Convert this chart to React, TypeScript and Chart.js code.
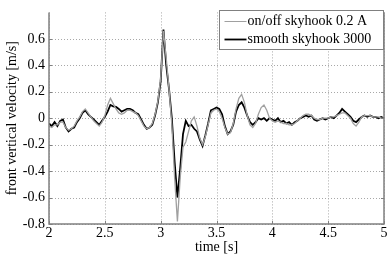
import React, { useEffect, useRef } from "react";
import { Chart, registerables } from "chart.js";

Chart.register(...registerables);

const times = [
  2.0, 2.025, 2.05, 2.075, 2.1, 2.125, 2.15, 2.175, 2.2, 2.225, 2.25, 2.275, 2.3, 2.325, 2.35, 2.375, 2.4, 2.425, 2.45, 2.475,
  2.5, 2.525, 2.55, 2.575, 2.6, 2.625, 2.65, 2.675, 2.7, 2.725, 2.75, 2.775, 2.8, 2.825, 2.85, 2.875, 2.9, 2.925, 2.95, 2.975,
  3.0, 3.025, 3.05, 3.075, 3.1, 3.125, 3.15, 3.175, 3.2, 3.225, 3.25, 3.275, 3.3, 3.325, 3.35, 3.375, 3.4, 3.425, 3.45, 3.475,
  3.5, 3.525, 3.55, 3.575, 3.6, 3.625, 3.65, 3.675, 3.7, 3.725, 3.75, 3.775, 3.8, 3.825, 3.85, 3.875, 3.9, 3.925, 3.95, 3.975,
  4.0, 4.025, 4.05, 4.075, 4.1, 4.125, 4.15, 4.175, 4.2, 4.225, 4.25, 4.275, 4.3, 4.325, 4.35, 4.375, 4.4, 4.425, 4.45, 4.475,
  4.5, 4.525, 4.55, 4.575, 4.6, 4.625, 4.65, 4.675, 4.7, 4.725, 4.75, 4.775, 4.8, 4.825, 4.85, 4.875, 4.9, 4.925, 4.95, 4.975,
  5.0,
];

const onOffSkyhook = [
  -0.06, -0.07, -0.05, -0.05, -0.03, -0.03, -0.07, -0.09, -0.08, -0.06, -0.02, 0.01, 0.05, 0.07, 0.04, 0.01, -0.02, -0.04, -0.06, -0.03,
  0.02, 0.1, 0.15, 0.11, 0.07, 0.04, 0.03, 0.04, 0.06, 0.06, 0.05, 0.04, 0.02, -0.02, -0.06, -0.08, -0.07, -0.04, 0.03, 0.13,
  0.3, 0.66, 0.45, 0.22, -0.05, -0.45, -0.78, -0.45, -0.22, -0.18, -0.1, -0.02, 0.01, -0.06, -0.15, -0.2, -0.14, -0.05, 0.04, 0.06,
  0.07, 0.05, 0.0, -0.07, -0.12, -0.11, -0.04, 0.07, 0.15, 0.18, 0.12, 0.02, -0.05, -0.07, -0.04, 0.03, 0.08, 0.1, 0.06, 0.0,
  -0.02, -0.03, -0.02, -0.03, -0.04, -0.04, -0.05, -0.05, -0.04, -0.02, 0.0, 0.02, 0.03, 0.03, 0.02, 0.0, -0.01, -0.01, 0.0, 0.0,
  0.0, 0.01, 0.01, 0.02, 0.03, 0.04, 0.04, 0.02, 0.0, -0.04, -0.06, -0.03, 0.01, 0.02, 0.02, 0.02, 0.01, 0.01, 0.01, 0.0,
  0.0,
];

const smoothSkyhook = [
  -0.04, -0.06, -0.03, -0.06, -0.02, -0.01, -0.07, -0.1, -0.08, -0.07, -0.03, 0.0, 0.04, 0.06, 0.03, 0.01, -0.01, -0.03, -0.05, -0.02,
  0.01, 0.05, 0.1, 0.09, 0.085, 0.07, 0.05, 0.06, 0.07, 0.07, 0.06, 0.04, 0.03, -0.01, -0.05, -0.08, -0.07, -0.05, 0.02, 0.12,
  0.28, 0.67, 0.4, 0.22, 0.0, -0.33, -0.6, -0.38, -0.12, -0.02, -0.06, -0.05, -0.08, -0.1, -0.16, -0.21, -0.13, -0.04, 0.06, 0.07,
  0.08, 0.07, 0.03, -0.06, -0.12, -0.1, -0.05, 0.05, 0.1, 0.12, 0.08, 0.02, -0.03, -0.05, -0.03, 0.0, -0.01, 0.0, -0.02, 0.0,
  -0.01, -0.02, 0.0, -0.03, -0.02, -0.04, -0.03, -0.05, -0.03, -0.02, 0.0, 0.01, 0.02, 0.01, 0.02, -0.01, -0.02, -0.01, 0.0, -0.01,
  0.0, 0.01, 0.0, 0.02, 0.04, 0.07, 0.05, 0.03, 0.01, -0.02, -0.03, -0.01, 0.01, 0.02, 0.01, 0.02, 0.01, 0.01, 0.0, 0.01,
  0.0,
];

const seriesLabels = ["on/off skyhook 0.2 A", "smooth skyhook 3000"];
const seriesColors = ["#a0a0a0", "#000000"];
const xTicks = [2, 2.5, 3, 3.5, 4, 4.5, 5];
const yTicks = [-0.8, -0.6, -0.4, -0.2, 0, 0.2, 0.4, 0.6];

const FONT = "Liberation Serif";

const gridPlugin = {
  id: "dotgrid",
  beforeDatasetsDraw(chart: any) {
    const { ctx, chartArea: a } = chart;
    const xs = chart.scales.x;
    const ys = chart.scales.y;
    ctx.save();
    ctx.strokeStyle = "#a8a8a8";
    ctx.lineWidth = 1;
    ctx.setLineDash([1, 2]);
    ctx.beginPath();
    xTicks.forEach((t) => {
      const px = Math.round(xs.getPixelForValue(t)) + 0.5;
      ctx.moveTo(px, a.top);
      ctx.lineTo(px, a.bottom);
    });
    yTicks.forEach((t) => {
      const py = Math.round(ys.getPixelForValue(t)) + 0.5;
      ctx.moveTo(a.left, py);
      ctx.lineTo(a.right, py);
    });
    ctx.stroke();
    ctx.restore();
  },
};

const framePlugin = {
  id: "frame",
  afterDraw(chart: any) {
    const { ctx, chartArea: a } = chart;
    ctx.save();
    ctx.strokeStyle = "#808080";
    ctx.lineWidth = 1.5;
    ctx.beginPath();
    ctx.moveTo(a.left, a.top);
    ctx.lineTo(a.left, a.bottom);
    ctx.lineTo(a.right, a.bottom);
    ctx.lineTo(a.right, a.top);
    ctx.stroke();
    ctx.lineWidth = 1;
    const xs = chart.scales.x;
    const ys = chart.scales.y;
    ctx.beginPath();
    xTicks.forEach((t) => {
      const px = Math.round(xs.getPixelForValue(t)) + 0.5;
      ctx.moveTo(px, a.bottom);
      ctx.lineTo(px, a.bottom - 3);
    });
    yTicks.forEach((t) => {
      const py = Math.round(ys.getPixelForValue(t)) + 0.5;
      ctx.moveTo(a.left, py);
      ctx.lineTo(a.left + 3, py);
      ctx.moveTo(a.right, py);
      ctx.lineTo(a.right - 3, py);
    });
    ctx.stroke();

    const bx = 219.5, by = 10.5, bw = 164, bh = 39;
    ctx.fillStyle = "#ffffff";
    ctx.fillRect(bx, by, bw, bh);
    ctx.strokeStyle = "#808080";
    ctx.lineWidth = 1;
    ctx.strokeRect(bx, by, bw, bh);
    ctx.font = "14px '" + FONT + "'";
    ctx.textBaseline = "middle";
    ctx.textAlign = "left";
    seriesLabels.forEach((lab, i) => {
      const yy = by + 11 + i * 18;
      ctx.strokeStyle = seriesColors[i];
      ctx.lineWidth = i === 0 ? 1 : 1.8;
      ctx.beginPath();
      ctx.moveTo(bx + 5, yy);
      ctx.lineTo(bx + 27, yy);
      ctx.stroke();
      ctx.fillStyle = "#000000";
      ctx.fillText(lab, bx + 28, yy);
    });
    ctx.restore();
  },
};

export default function App() {
  const ref = useRef<HTMLCanvasElement>(null);
  useEffect(() => {
    document.body.style.margin = "0";
    const canvas = ref.current!;
    const chart = new Chart(canvas, {
      type: "line",
      data: {
        datasets: [
          {
            label: seriesLabels[0],
            data: times.map((t, i) => ({ x: t, y: onOffSkyhook[i] })),
            borderColor: seriesColors[0],
            borderWidth: 1.3,
            pointRadius: 0,
            tension: 0,
          },
          {
            label: seriesLabels[1],
            data: times.map((t, i) => ({ x: t, y: smoothSkyhook[i] })),
            borderColor: seriesColors[1],
            borderWidth: 1.8,
            pointRadius: 0,
            tension: 0,
          },
        ],
      },
      options: {
        animation: false,
        responsive: false,
        devicePixelRatio: 1,
        layout: { padding: { left: 0, right: 7, top: 6, bottom: 0 } },
        plugins: { legend: { display: false }, tooltip: { enabled: false } },
        scales: {
          x: {
            type: "linear",
            min: 2,
            max: 5,
            afterBuildTicks: (s: any) => {
              s.ticks = xTicks.map((v) => ({ value: v }));
            },
            afterFit: (s: any) => {
              s.height = 34;
            },
            ticks: {
              color: "#000",
              font: { family: FONT, size: 14 },
              padding: 1,
              maxRotation: 0,
              callback: (v: any) => String(v),
            },
            grid: { display: false, drawTicks: false },
            border: { display: false },
            title: {
              display: true,
              text: "time [s]",
              color: "#000",
              font: { family: FONT, size: 14 },
              padding: { top: 0, bottom: 2 },
            },
          },
          y: {
            type: "linear",
            min: -0.8,
            max: 0.8,
            afterBuildTicks: (s: any) => {
              s.ticks = yTicks.map((v) => ({ value: v }));
            },
            afterFit: (s: any) => {
              s.width = 49;
            },
            ticks: {
              color: "#000",
              font: { family: FONT, size: 14 },
              padding: 4,
              callback: (v: any) => String(Math.round(v * 10) / 10),
            },
            grid: { display: false, drawTicks: false },
            border: { display: false },
            title: {
              display: true,
              text: "front vertical velocity [m/s]",
              color: "#000",
              font: { family: FONT, size: 14 },
              padding: { top: 4, bottom: 0 },
            },
          },
        },
      },
      plugins: [gridPlugin, framePlugin],
    });
    let alive = true;
    if ((document as any).fonts && (document as any).fonts.load) {
      (document as any).fonts.load("14px '" + FONT + "'").then(() => {
        if (alive) chart.update();
      });
    }
    return () => {
      alive = false;
      chart.destroy();
    };
  }, []);
  return <canvas ref={ref} width={391} height={258} style={{ display: "block" }} />;
}
